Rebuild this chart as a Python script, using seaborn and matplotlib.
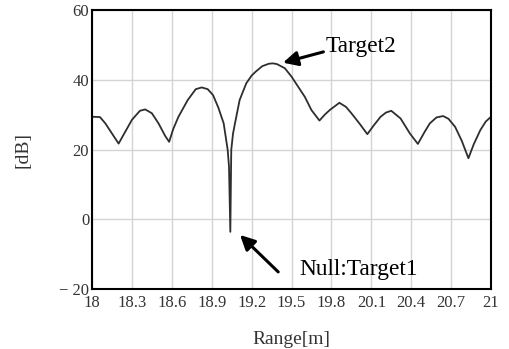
import matplotlib
matplotlib.use("Agg")
import matplotlib.pyplot as plt
import seaborn as sns
import pandas as pd

# ---- data ----
range_m = [18.00, 18.06, 18.10, 18.15, 18.20, 18.25, 18.30, 18.36,
           18.40, 18.45, 18.50, 18.55, 18.58, 18.61, 18.65, 18.72, 18.78, 18.825,
           18.87, 18.91, 18.95, 18.99, 19.02, 19.03, 19.04, 19.047, 19.06, 19.075,
           19.11, 19.16, 19.20, 19.23, 19.28, 19.33, 19.36, 19.39, 19.45, 19.50,
           19.55, 19.60, 19.65, 19.71, 19.75, 19.79, 19.86, 19.91, 19.95, 20.01, 20.07,
           20.12, 20.17, 20.21, 20.25, 20.32, 20.39, 20.45, 20.50, 20.54, 20.59,
           20.64, 20.68, 20.73, 20.78, 20.83, 20.87, 20.92, 20.96, 21.00]
level_db = [29.4, 29.3, 27.5, 24.6, 21.7, 25.1, 28.5, 31.1,
            31.5, 30.4, 27.5, 23.9, 22.2, 25.8, 29.4, 34.2, 37.3, 37.8,
            37.3, 35.6, 32.0, 27.5, 19.9, 15.1, -3.6, 19.9, 24.5, 27.5,
            34.2, 39.0, 41.2, 42.3, 43.9, 44.6, 44.7, 44.5, 43.3, 40.9,
            38.0, 35.1, 31.3, 28.3, 30.0, 31.4, 33.4, 32.2, 30.4, 27.5, 24.4,
            27.0, 29.4, 30.6, 31.1, 28.9, 24.6, 21.6, 25.0, 27.5, 29.2,
            29.6, 28.8, 26.5, 22.5, 17.5, 21.5, 25.6, 28.0, 29.4]

x_ticks = [18, 18.3, 18.6, 18.9, 19.2, 19.5, 19.8, 20.1, 20.4, 20.7, 21]
x_tick_labels = ["18", "18.3", "18.6", "18.9", "19.2", "19.5", "19.8", "20.1", "20.4", "20.7", "21"]
y_ticks = [-20, 0, 20, 40, 60]
y_tick_labels = ["\u2212 20", "0", "20", "40", "60"]

x_label = "Range[m]"
y_label = "[dB]"
label_target2 = "Target2"
label_target1 = "Null:Target1"

df = pd.DataFrame({"range": range_m, "db": level_db})

sns.set_theme(style="white")
plt.rcParams["font.family"] = ["Liberation Serif", "DejaVu Serif"]

fig = plt.figure(figsize=(5.10, 3.49), dpi=100)
ax = fig.add_axes([0.1804, 0.1719, 0.7824, 0.7994])

sns.lineplot(data=df, x="range", y="db", ax=ax, color="#2e2e2e", linewidth=1.3)

ax.set_xlim(18, 21)
ax.set_ylim(-20, 60)
ax.set_xticks(x_ticks)
ax.set_xticklabels(x_tick_labels, fontsize=12, color="#333333")
ax.set_yticks(y_ticks)
ax.set_yticklabels(y_tick_labels, fontsize=12, color="#333333")
ax.tick_params(axis="x", length=0, pad=4)
ax.tick_params(axis="y", length=0, pad=2)

ax.grid(True, color="#d4d4d4", linewidth=1.0)
ax.set_axisbelow(True)
for side in ["left", "bottom", "top", "right"]:
    ax.spines[side].set_visible(True)
    ax.spines[side].set_color("black")
    ax.spines[side].set_linewidth(1.5)

ax.set_xlabel(x_label, fontsize=14, color="#333333", labelpad=15)
ax.set_ylabel(y_label, fontsize=14, color="#333333", labelpad=20)

# annotations
ax.text(19.76, 49.4, label_target2, fontsize=16.8, ha="left", va="center", color="black")
ax.annotate("", xy=(19.436, 44.9), xytext=(19.74, 48.0),
            arrowprops=dict(arrowstyle="-|>", lw=2.2, color="black", mutation_scale=22,
                            shrinkA=0, shrinkB=0))
ax.text(19.556, -14.5, label_target1, fontsize=16.8, ha="left", va="center", color="black")
ax.annotate("", xy=(19.113, -4.5), xytext=(19.40, -15.1),
            arrowprops=dict(arrowstyle="-|>", lw=2.2, color="black", mutation_scale=22,
                            shrinkA=0, shrinkB=0))

fig.savefig("out.png", dpi=100)
